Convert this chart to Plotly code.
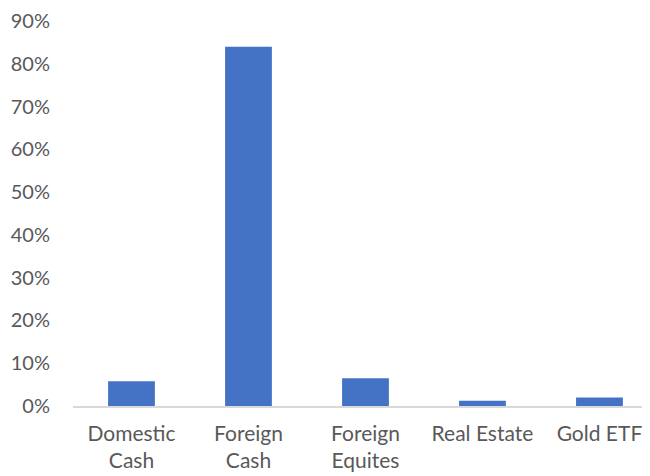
import plotly.graph_objects as go

categories = ["Domestic<br>Cash", "Foreign<br>Cash", "Foreign<br>Equites", "Real Estate", "Gold ETF"]
values = [0.058, 0.84, 0.065, 0.012, 0.020]
y_ticks = [0, 0.1, 0.2, 0.3, 0.4, 0.5, 0.6, 0.7, 0.8, 0.9]
y_tick_labels = ["0%", "10%", "20%", "30%", "40%", "50%", "60%", "70%", "80%", "90%"]

fig = go.Figure(go.Bar(
    x=list(range(len(categories))),
    y=values,
    width=0.40,
    marker=dict(color="#4472C4", line=dict(width=0)),
))

font_family = "Lato, 'Open Sans', sans-serif"
# page body has an 8px default margin, so the figure is sized/offset to compensate
fig.update_layout(
    width=642, height=468,
    margin=dict(l=65, r=0, t=13, b=70),
    paper_bgcolor="white", plot_bgcolor="white",
    showlegend=False,
    font=dict(family=font_family, size=20, color="#595959"),
    xaxis=dict(
        tickmode="array",
        tickvals=list(range(len(categories))),
        ticktext=categories,
        range=[-0.5, 4.432],
        showline=True, linecolor="#D9D9D9", linewidth=1.5,
        showgrid=False, zeroline=False,
        ticks="", ticklabelstandoff=8,
        tickfont=dict(size=21, color="#595959"),
        tickangle=0,
        automargin=False,
    ),
    yaxis=dict(
        tickmode="array",
        tickvals=y_ticks,
        ticktext=y_tick_labels,
        range=[0, 0.9001],
        showgrid=False, zeroline=False, showline=False,
        ticks="", ticklabelstandoff=22,
        tickfont=dict(size=20, color="#595959"),
        automargin=False,
    ),
)

fig.write_html("out.html")
